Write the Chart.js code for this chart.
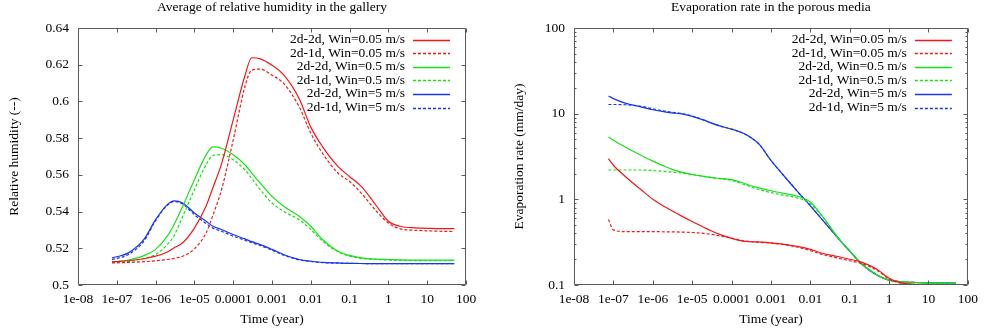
<!DOCTYPE html>
<html>
<head>
<meta charset="utf-8">
<script src="https://cdn.jsdelivr.net/npm/chart.js@4.4.0/dist/chart.umd.min.js"></script>
<style>
  body { margin: 0; background: #fff; }
  #wrap { position: relative; width: 984px; height: 336px; }
  canvas { position: absolute; top: 0; }
</style>
</head>
<body>
<div id="wrap">
  <canvas id="rhChart" width="492" height="336" style="left:0"></canvas>
  <canvas id="evChart" width="492" height="336" style="left:492px"></canvas>
</div>
<script>
// time (year), shared by every curve
const times = [7.5e-8, 1e-7, 2e-7, 5e-7, 1e-6, 2e-6, 3e-6, 5e-6, 1e-5, 2e-5, 3e-5, 5e-5,
  1e-4, 2e-4, 3e-4, 5e-4, 1e-3, 2e-3, 5e-3, 1e-2, 2e-2, 5e-2, 0.1, 0.2, 0.5, 1, 2, 5, 10, 20, 50];

const seriesLabels = ['2d-2d, Win=0.05 m/s', '2d-1d, Win=0.05 m/s', '2d-2d, Win=0.5 m/s',
  '2d-1d, Win=0.5 m/s', '2d-2d, Win=5 m/s', '2d-1d, Win=5 m/s'];

// relative humidity in the gallery (-)
const rh22_005 = [0.5127, 0.5128, 0.5132, 0.5143, 0.5157, 0.518, 0.5203, 0.523, 0.531, 0.543, 0.553, 0.566,
  0.590, 0.614, 0.6238, 0.6232, 0.6197, 0.6145, 0.6016, 0.586, 0.5754, 0.5646, 0.559, 0.5537, 0.5429, 0.5347,
  0.532, 0.5311, 0.5309, 0.5307, 0.5307];
const rh21_005 = [0.5121, 0.5121, 0.5123, 0.5127, 0.5132, 0.5139, 0.5145, 0.5157, 0.5197, 0.5284, 0.538, 0.5519,
  0.579, 0.608, 0.617, 0.6176, 0.6143, 0.6098, 0.5971, 0.5827, 0.5718, 0.561, 0.5564, 0.550, 0.540, 0.5338,
  0.5306, 0.5298, 0.5295, 0.5293, 0.5291];
const rh22_05 = [0.5125, 0.5127, 0.5136, 0.516, 0.5194, 0.5266, 0.533, 0.5429, 0.5573, 0.5709, 0.5752, 0.5745,
  0.5709, 0.5655, 0.561, 0.5555, 0.5483, 0.5429, 0.5374, 0.532, 0.5248, 0.5184, 0.5161, 0.5148, 0.5141, 0.5139,
  0.5137, 0.5136, 0.5136, 0.5136, 0.5136];
const rh21_05 = [0.5123, 0.5123, 0.5128, 0.5145, 0.5166, 0.522, 0.527, 0.5374, 0.5519, 0.5655, 0.5705, 0.571,
  0.5682, 0.5628, 0.558, 0.5519, 0.5447, 0.5401, 0.5356, 0.5302, 0.5239, 0.5181, 0.5157, 0.5145, 0.5139, 0.5136,
  0.5134, 0.5133, 0.5132, 0.5132, 0.5132];
const rh22_5 = [0.5148, 0.5154, 0.5175, 0.5248, 0.5356, 0.5438, 0.5458, 0.5447, 0.5392, 0.5347, 0.532, 0.5302,
  0.5275, 0.5251, 0.5236, 0.522, 0.5194, 0.5166, 0.5139, 0.513, 0.5123, 0.512, 0.5118, 0.5117, 0.5116, 0.5116,
  0.5116, 0.5116, 0.5116, 0.5116, 0.5116];
const rh21_5 = [0.5139, 0.5145, 0.5166, 0.5239, 0.5351, 0.5434, 0.5454, 0.5441, 0.5383, 0.5335, 0.531, 0.5293,
  0.5266, 0.5244, 0.523, 0.5215, 0.519, 0.5163, 0.5137, 0.5128, 0.5122, 0.5119, 0.5118, 0.5117, 0.5116, 0.5116,
  0.5116, 0.5116, 0.5116, 0.5116, 0.5116];

// evaporation rate in the porous media (mm/day)
const ev22_005 = [2.98, 2.5, 1.85, 1.3, 1.0, 0.82, 0.74, 0.65, 0.55, 0.47, 0.43, 0.39,
  0.35, 0.325, 0.32, 0.318, 0.31, 0.3, 0.28, 0.26, 0.235, 0.215, 0.2, 0.185, 0.152, 0.12,
  0.106, 0.102, 0.101, 0.1, 0.1];
const ev21_005 = [0.58, 0.44, 0.42, 0.42, 0.42, 0.418, 0.417, 0.415, 0.41, 0.40, 0.39, 0.375,
  0.352, 0.328, 0.32, 0.316, 0.308, 0.297, 0.275, 0.252, 0.228, 0.206, 0.192, 0.178, 0.148, 0.117,
  0.105, 0.101, 0.1, 0.1, 0.1];
const ev22_05 = [5.35, 4.89, 4.09, 3.27, 2.79, 2.43, 2.25, 2.09, 1.95, 1.85, 1.8, 1.76,
  1.70, 1.55, 1.45, 1.36, 1.26, 1.18, 1.08, 0.93, 0.64, 0.36, 0.25, 0.177, 0.131, 0.114,
  0.109, 0.107, 0.106, 0.106, 0.106];
const ev21_05 = [2.2, 2.2, 2.2, 2.2, 2.17, 2.12, 2.08, 2.03, 1.95, 1.85, 1.79, 1.74,
  1.67, 1.5, 1.4, 1.3, 1.2, 1.12, 1.03, 0.89, 0.63, 0.36, 0.25, 0.177, 0.131, 0.114,
  0.109, 0.107, 0.106, 0.106, 0.106];
const ev22_5 = [16.1, 15.0, 13.3, 12.0, 11.1, 10.5, 10.2, 10.0, 9.3, 8.4, 7.8, 7.2,
  6.6, 5.9, 5.3, 4.4, 2.85, 1.95, 1.2, 0.84, 0.58, 0.355, 0.248, 0.176, 0.13, 0.114,
  0.109, 0.107, 0.106, 0.106, 0.106];
const ev21_5 = [12.8, 12.8, 12.7, 12.2, 11.4, 10.7, 10.4, 10.1, 9.4, 8.4, 7.8, 7.2,
  6.6, 5.9, 5.3, 4.4, 2.85, 1.95, 1.2, 0.84, 0.58, 0.355, 0.248, 0.176, 0.13, 0.114,
  0.109, 0.107, 0.106, 0.106, 0.106];

// axes
const xTicks = [1e-8, 1e-7, 1e-6, 1e-5, 1e-4, 1e-3, 1e-2, 0.1, 1, 10, 100];
const xTickLabels = ['1e-08', '1e-07', '1e-06', '1e-05', '0.0001', '0.001', '0.01', '0.1', '1', '10', '100'];
const rhTicks = [0.5, 0.52, 0.54, 0.56, 0.58, 0.6, 0.62, 0.64];
const rhTickLabels = ['0.5', '0.52', '0.54', '0.56', '0.58', '0.6', '0.62', '0.64'];
const evTicks = [0.1, 1, 10, 100];
const evTickLabels = ['0.1', '1', '10', '100'];

const colors = ['#f01818', '#f01818', '#18e018', '#18e018', '#1838e8', '#1838e8'];
const FONT = '"Liberation Serif", "Times New Roman", serif';

const evMinor = [];
[0.1, 1, 10].forEach(d => { for (let k = 2; k <= 9; k++) evMinor.push(d * k); });

// gnuplot-like frame with inward ticks
const framePlugin = {
  id: 'frame',
  afterDatasetsDraw(chart, args, opts) {
    const ctx = chart.ctx;
    const a = chart.chartArea;
    const x = chart.scales.x, y = chart.scales.y;
    const l = Math.round(a.left) + 0.5, r = Math.round(a.right) - 0.5;
    const t = Math.round(a.top) + 0.5, b = Math.round(a.bottom) - 0.5;
    ctx.save();
    ctx.strokeStyle = '#5a5a5a';
    ctx.lineWidth = 1;
    ctx.setLineDash([]);
    ctx.beginPath();
    ctx.rect(l, t, r - l, b - t);
    x.ticks.forEach(tk => {
      const px = Math.round(x.getPixelForValue(tk.value)) + 0.5;
      ctx.moveTo(px, b); ctx.lineTo(px, b - 4);
      ctx.moveTo(px, t); ctx.lineTo(px, t + 4);
    });
    y.ticks.forEach(tk => {
      const py = Math.round(y.getPixelForValue(tk.value)) + 0.5;
      ctx.moveTo(l, py); ctx.lineTo(l + 4, py);
      ctx.moveTo(r, py); ctx.lineTo(r - 4, py);
    });
    (opts.minor || []).forEach(v => {
      const py = Math.round(y.getPixelForValue(v)) + 0.5;
      ctx.moveTo(l, py); ctx.lineTo(l + 2, py);
      ctx.moveTo(r, py); ctx.lineTo(r - 2, py);
    });
    ctx.stroke();
    ctx.restore();
  }
};

// title centred on the plot area, key in the top right corner
const keyPlugin = {
  id: 'key',
  afterDraw(chart, args, opts) {
    const ctx = chart.ctx;
    const a = chart.chartArea;
    ctx.save();
    ctx.fillStyle = '#000';
    ctx.font = '13.5px ' + FONT;
    ctx.textAlign = 'center';
    ctx.textBaseline = 'middle';
    ctx.fillText(opts.title, (a.left + a.right) / 2, 7.5);

    ctx.font = '13.5px ' + FONT;
    ctx.textAlign = 'right';
    chart.data.datasets.forEach((ds, i) => {
      const yy = a.top + 11.5 + i * 13.6;
      ctx.fillStyle = '#000';
      ctx.fillText(ds.label, a.right - 61, yy);
      ctx.strokeStyle = colors[i];
      ctx.lineWidth = 1.4;
      ctx.setLineDash(i % 2 === 1 ? [3, 2] : []);
      ctx.beginPath();
      ctx.moveTo(a.right - 53, Math.round(yy) + 0.5);
      ctx.lineTo(a.right - 16, Math.round(yy) + 0.5);
      ctx.stroke();
    });
    ctx.restore();
  }
};

function makeDatasets(list) {
  return list.map((vals, i) => ({
    label: seriesLabels[i],
    data: times.map((t, j) => ({ x: t, y: vals[j] })),
    borderColor: colors[i],
    borderWidth: 1.2,
    borderDash: i % 2 === 1 ? [3, 2] : [],
    pointRadius: 0,
    fill: false,
    cubicInterpolationMode: 'monotone'
  }));
}

function render(id, title, yTitle, datasets, yOpts, axisW, padRight, yTitlePad, minor) {
  const tickFont = { family: FONT, size: 13.5 };
  new Chart(document.getElementById(id), {
    type: 'line',
    data: { datasets: datasets },
    options: {
      responsive: false,
      animation: false,
      devicePixelRatio: 1,
      layout: { padding: { left: 0, right: padRight, top: 28, bottom: 0 } },
      plugins: {
        legend: { display: false },
        tooltip: { enabled: false },
        title: { display: false },
        frame: { minor: minor },
        key: { title: title }
      },
      scales: {
        x: {
          type: 'logarithmic', min: 1e-8, max: 100,
          afterBuildTicks: s => { s.ticks = xTicks.map(v => ({ value: v })); },
          afterFit: s => { s.height = 51; },
          ticks: {
            autoSkip: false, maxRotation: 0, color: '#000', font: tickFont, padding: 6,
            callback: (v, i) => xTickLabels[i]
          },
          grid: { display: false, drawTicks: false },
          border: { display: false },
          title: {
            display: true, text: 'Time (year)', color: '#000',
            font: { family: FONT, size: 13.5, lineHeight: 1.2 },
            padding: { top: 0, bottom: 8 }
          }
        },
        y: Object.assign({
          afterFit: s => { s.width = axisW; },
          grid: { display: false, drawTicks: false },
          border: { display: false },
          title: {
            display: true, text: yTitle, color: '#000',
            font: { family: FONT, size: 13.5, lineHeight: 1.2 },
            padding: { top: yTitlePad, bottom: 0 }
          }
        }, yOpts)
      }
    },
    plugins: [framePlugin, keyPlugin]
  });
}

render('rhChart', 'Average of relative humidity in the gallery', 'Relative humidity (--)',
  makeDatasets([rh22_005, rh21_005, rh22_05, rh21_05, rh22_5, rh21_5]),
  {
    type: 'linear', min: 0.5, max: 0.64,
    afterBuildTicks: s => { s.ticks = rhTicks.map(v => ({ value: v })); },
    ticks: {
      autoSkip: false, color: '#000', font: { family: FONT, size: 13.5 }, padding: 9,
      callback: (v, i) => rhTickLabels[i]
    }
  }, 78, 26, 6, []);

render('evChart', 'Evaporation rate in the porous media', 'Evaporation rate (mm/day)',
  makeDatasets([ev22_005, ev21_005, ev22_05, ev21_05, ev22_5, ev21_5]),
  {
    type: 'logarithmic', min: 0.1, max: 100,
    afterBuildTicks: s => { s.ticks = evTicks.map(v => ({ value: v })); },
    ticks: {
      autoSkip: false, color: '#000', font: { family: FONT, size: 13.5 }, padding: 9,
      callback: (v, i) => evTickLabels[i]
    }
  }, 82, 14, 19, evMinor);
</script>
</body>
</html>
